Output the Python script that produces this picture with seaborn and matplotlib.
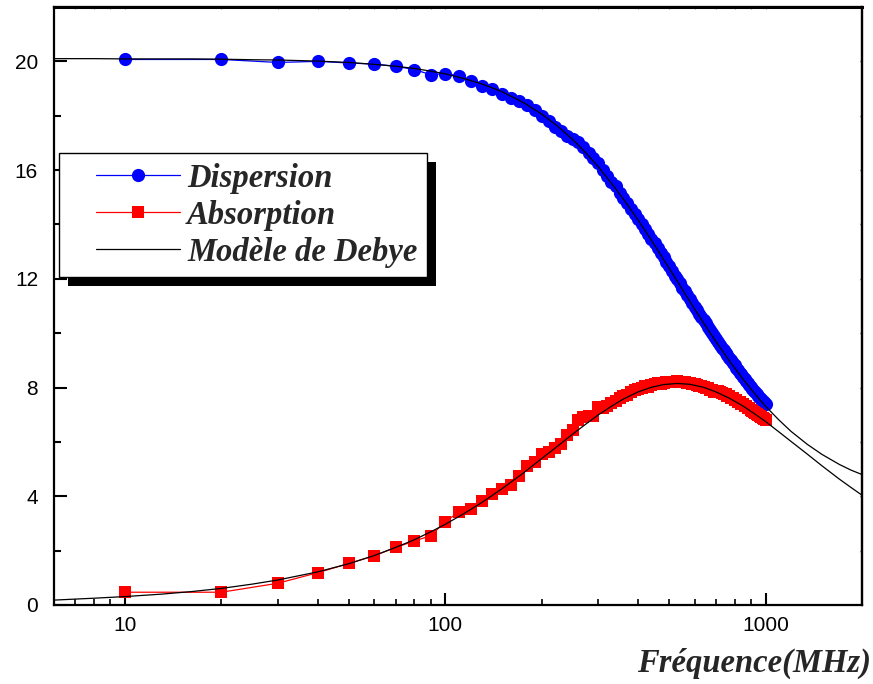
import matplotlib
matplotlib.use("Agg")
import matplotlib.pyplot as plt
import matplotlib.transforms as mtransforms
from matplotlib.lines import Line2D
from matplotlib.patches import Rectangle
from matplotlib.legend_handler import HandlerLine2D
from matplotlib.font_manager import FontProperties
import seaborn as sns

# measured frequencies (MHz)
freq = list(range(10, 1010, 10))

# real part (dispersion)
dispersion = [
    20.07, 20.07, 19.96, 20.00, 19.94, 19.90, 19.82, 19.70, 19.51, 19.55,
    19.47, 19.27, 19.11, 19.00, 18.81, 18.65, 18.53, 18.41, 18.20, 18.00,
    17.80, 17.59, 17.43, 17.27, 17.15, 17.03, 16.85, 16.63, 16.45, 16.25,
    16.02, 15.80, 15.58, 15.40, 15.17, 14.98, 14.80, 14.58, 14.40, 14.20,
    14.03, 13.83, 13.66, 13.47, 13.31, 13.12, 12.95, 12.80, 12.61, 12.47,
    12.30, 12.12, 11.98, 11.84, 11.66, 11.54, 11.40, 11.24, 11.12, 10.98,
    10.85, 10.71, 10.61, 10.47, 10.36, 10.22, 10.13, 10.01, 9.88, 9.79,
    9.68, 9.58, 9.46, 9.38, 9.27, 9.19, 9.08, 9.00, 8.90, 8.83,
    8.72, 8.64, 8.55, 8.48, 8.40, 8.33, 8.24, 8.18, 8.09, 8.03,
    7.96, 7.89, 7.82, 7.76, 7.70, 7.63, 7.57, 7.51, 7.45, 7.40,
]

# imaginary part (absorption)
absorption = [
    0.47, 0.47, 0.80, 1.19, 1.53, 1.81, 2.12, 2.35, 2.55, 3.06,
    3.42, 3.55, 3.82, 4.10, 4.28, 4.40, 4.73, 5.10, 5.26, 5.54,
    5.63, 5.77, 5.93, 6.24, 6.42, 6.81, 6.91, 6.94, 6.97, 7.28,
    7.25, 7.33, 7.42, 7.50, 7.62, 7.70, 7.74, 7.82, 7.92, 7.95,
    7.98, 8.05, 8.03, 8.10, 8.12, 8.15, 8.13, 8.18, 8.20, 8.19,
    8.22, 8.20, 8.23, 8.21, 8.19, 8.22, 8.17, 8.16, 8.12, 8.14,
    8.10, 8.05, 8.07, 8.01, 7.97, 7.98, 7.92, 7.90, 7.84, 7.83,
    7.86, 7.83, 7.81, 7.76, 7.75, 7.70, 7.68, 7.62, 7.61, 7.56,
    7.53, 7.48, 7.46, 7.40, 7.38, 7.33, 7.31, 7.25, 7.23, 7.17,
    7.15, 7.10, 7.08, 7.02, 7.00, 6.95, 6.93, 6.88, 6.85, 6.80,
]

# Debye model curves
model_freq = [6, 8, 10, 13, 16, 20, 25, 30, 40, 50, 60, 70, 80, 90, 100,
              115, 130, 150, 175, 200, 225, 250, 275, 300, 330, 360, 400,
              440, 480, 530, 580, 640, 700, 770, 850, 930, 1000, 1100, 1200,
              1350, 1500, 1700, 1850, 2000]
model_disp = [20.10, 20.10, 20.09, 20.09, 20.09, 20.08, 20.06, 20.05, 20.01,
              19.96, 19.89, 19.82, 19.74, 19.64, 19.54, 19.36, 19.17, 18.89,
              18.49, 18.06, 17.60, 17.12, 16.63, 16.13, 15.52, 14.93, 14.16,
              13.42, 12.72, 11.91, 11.17, 10.38, 9.69, 8.99, 8.31, 7.74, 7.31,
              6.81, 6.39, 5.91, 5.54, 5.17, 4.96, 4.80]
model_abs = [0.18, 0.25, 0.31, 0.40, 0.49, 0.61, 0.77, 0.92, 1.22, 1.52,
             1.82, 2.12, 2.40, 2.69, 2.97, 3.38, 3.77, 4.27, 4.85, 5.39,
             5.86, 6.29, 6.66, 6.99, 7.31, 7.58, 7.84, 8.01, 8.11, 8.15,
             8.12, 8.01, 7.84, 7.61, 7.32, 7.01, 6.75, 6.37, 6.02, 5.55,
             5.12, 4.63, 4.32, 4.04]

sns.set_style("ticks")
plt.rcParams["font.family"] = ["Liberation Sans", "DejaVu Sans"]

serif_bi = FontProperties(family=["Liberation Serif", "DejaVu Serif"],
                          weight="bold", style="italic", size=23.5)

W, H = 873, 684
fig = plt.figure(figsize=(W / 100, H / 100), dpi=100, facecolor="white")
ax = fig.add_axes([54 / W, 1 - 605 / H, 808 / W, 598 / H])

sns.lineplot(x=freq, y=dispersion, ax=ax, color="#0000ff", lw=0.9,
             marker="o", markersize=9.5, markeredgewidth=0,
             label="Dispersion", zorder=2)
sns.lineplot(x=freq, y=absorption, ax=ax, color="#ff0000", lw=0.9,
             marker="s", markersize=8.6, markeredgewidth=0,
             label="Absorption", zorder=2)
sns.lineplot(x=model_freq, y=model_disp, ax=ax, color="black", lw=0.9,
             label="Modèle de Debye", zorder=4)
sns.lineplot(x=model_freq, y=model_abs, ax=ax, color="black", lw=0.9,
             zorder=4)

ax.set_xscale("log")
ax.set_xlim(6, 2000)
ax.set_ylim(0, 22)

ax.set_xticks([10, 100, 1000])
ax.set_xticklabels(["10", "100", "1000"])
ax.set_yticks([0, 4, 8, 12, 16, 20])
ax.set_yticks([2, 6, 10, 14, 18], minor=True)

for s in ax.spines.values():
    s.set_visible(True)
    s.set_linewidth(1.6)
    s.set_color("black")

ax.tick_params(axis="both", which="both", direction="in", colors="black",
               labelsize=15, top=False, right=False)
ax.tick_params(axis="y", which="major", length=9.5, width=1.5, pad=11.5)
ax.tick_params(axis="y", which="minor", length=5, width=1.5)
ax.tick_params(axis="x", which="major", length=8.5, width=1.5, pad=8)
ax.tick_params(axis="x", which="minor", length=4.5, width=1.2)

# faint ticks on the right and top frame
right = ax.secondary_yaxis("right")
right.set_yticks([2, 4, 6, 8, 10, 12, 14, 16, 18, 20])
right.tick_params(direction="in", length=1.5, width=1, labelright=False)
right.spines["right"].set_linewidth(1.6)
top = ax.secondary_xaxis("top")
top.set_xticks([10, 100, 1000])
top.tick_params(which="both", direction="in", length=1.2, width=0.8,
                colors="#888888", labeltop=False)
top.spines["top"].set_linewidth(2.2)
top.spines["top"].set_color("black")

ax.set_ylabel("")
ax.set_xlabel("Fréquence(MHz)", fontproperties=serif_bi)
ax.xaxis.set_label_coords((871 - 54) / 808, -(663 - 605) / 598)
ax.xaxis.label.set_ha("right")
ax.xaxis.label.set_va("center")

handles, labels = ax.get_legend_handles_labels()
leg = ax.legend(handles[:3], labels[:3], loc="upper left",
                bbox_to_anchor=(59 / W, 1 - 153 / H),
                bbox_transform=fig.transFigure, borderaxespad=0,
                frameon=True, fancybox=False, framealpha=1,
                edgecolor="black", prop=serif_bi, borderpad=0.3,
                labelspacing=0.18, handlelength=3.41, handletextpad=0.21,
                handler_map={Line2D: HandlerLine2D(xpad=0.83)})
leg.get_frame().set_linewidth(1.0)
leg.set_zorder(6)

fig.canvas.draw()
bb = leg.get_window_extent()
ax.add_patch(Rectangle((bb.x0 + 9, bb.y0 - 9), bb.width, bb.height,
                       transform=mtransforms.IdentityTransform(),
                       facecolor="black", edgecolor="none", zorder=5.5,
                       clip_on=False))

fig.savefig("out.png", dpi=100, facecolor="white")
